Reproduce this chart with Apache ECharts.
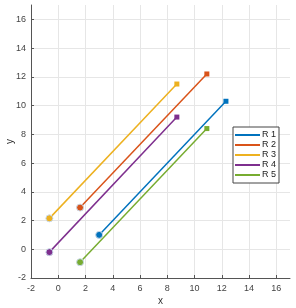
<!DOCTYPE html>
<html><head><meta charset="utf-8">
<script src="https://cdn.jsdelivr.net/npm/echarts@6/dist/echarts.min.js"></script>
<style>html,body{margin:0;padding:0;background:#fff}#c{width:296px;height:308px}</style>
</head><body><div id="c"></div>
<script>
const names = ['R 1','R 2','R 3','R 4','R 5'];
const startX = [3.0, 1.6, -0.65, -0.65, 1.6];
const startY = [1.0, 2.9, 2.15, -0.2, -0.9];
const endX = [12.3, 10.9, 8.7, 8.7, 10.9];
const endY = [10.3, 12.2, 11.5, 9.2, 8.4];
const colors = ['#0072BD','#D95319','#EDB120','#7E2F8E','#77AC30'];
const xTicks = {min:-2, max:17, interval:2};
const yTicks = {min:-2, max:17, interval:2};

const chart = echarts.init(document.getElementById('c'));
const axisCommon = {
  axisLine:{show:true, onZero:false, lineStyle:{color:'#555', width:1}},
  axisTick:{show:true, inside:true, length:3, lineStyle:{color:'#555'}},
  axisLabel:{color:'#444', fontSize:9, fontFamily:'Liberation Sans, Arial', showMaxLabel:false},
  splitLine:{show:true, showMaxLine:false, lineStyle:{color:'#e6e6e6', width:1}},
  nameMoveOverlap:false,
  nameTextStyle:{color:'#333', fontSize:10, fontFamily:'Liberation Sans, Arial'}
};
chart.setOption({
  animation:false,
  grid:{left:31, right:6, top:5, bottom:30, containLabel:false, outerBoundsMode:'none'},
  xAxis:Object.assign({type:'value', min:xTicks.min, max:xTicks.max, interval:xTicks.interval,
    name:'x', nameLocation:'middle', nameGap:18}, axisCommon,
    {axisLabel:Object.assign({}, axisCommon.axisLabel, {margin:6})}),
  yAxis:Object.assign({type:'value', min:yTicks.min, max:yTicks.max, interval:yTicks.interval,
    name:'y', nameLocation:'middle', nameGap:16}, axisCommon,
    {axisLabel:Object.assign({}, axisCommon.axisLabel, {margin:5})}),
  legend:{
    orient:'vertical', left:233, top:127, data:names,
    icon:'rect', itemWidth:25, itemHeight:2, itemGap:0,
    backgroundColor:'#fff', borderColor:'#444', borderWidth:1, borderRadius:0,
    padding:[3,3,3,2],
    textStyle:{fontSize:9, lineHeight:10, color:'#222', fontFamily:'Liberation Sans, Arial', padding:[0,0,0,-3]}
  },
  series: names.map((n,i)=>({
    name:n, type:'line', color:colors[i],
    lineStyle:{width:1.5, color:colors[i]},
    itemStyle:{color:colors[i]},
    data:[
      {value:[startX[i], startY[i]], symbol:'circle', symbolSize:7,
        itemStyle:{color:colors[i], borderColor:'#c8d8e8', borderWidth:1}},
      {value:[endX[i], endY[i]], symbol:'rect', symbolSize:5,
        itemStyle:{color:colors[i], borderWidth:0}}
    ]
  }))
});
</script></body></html>
